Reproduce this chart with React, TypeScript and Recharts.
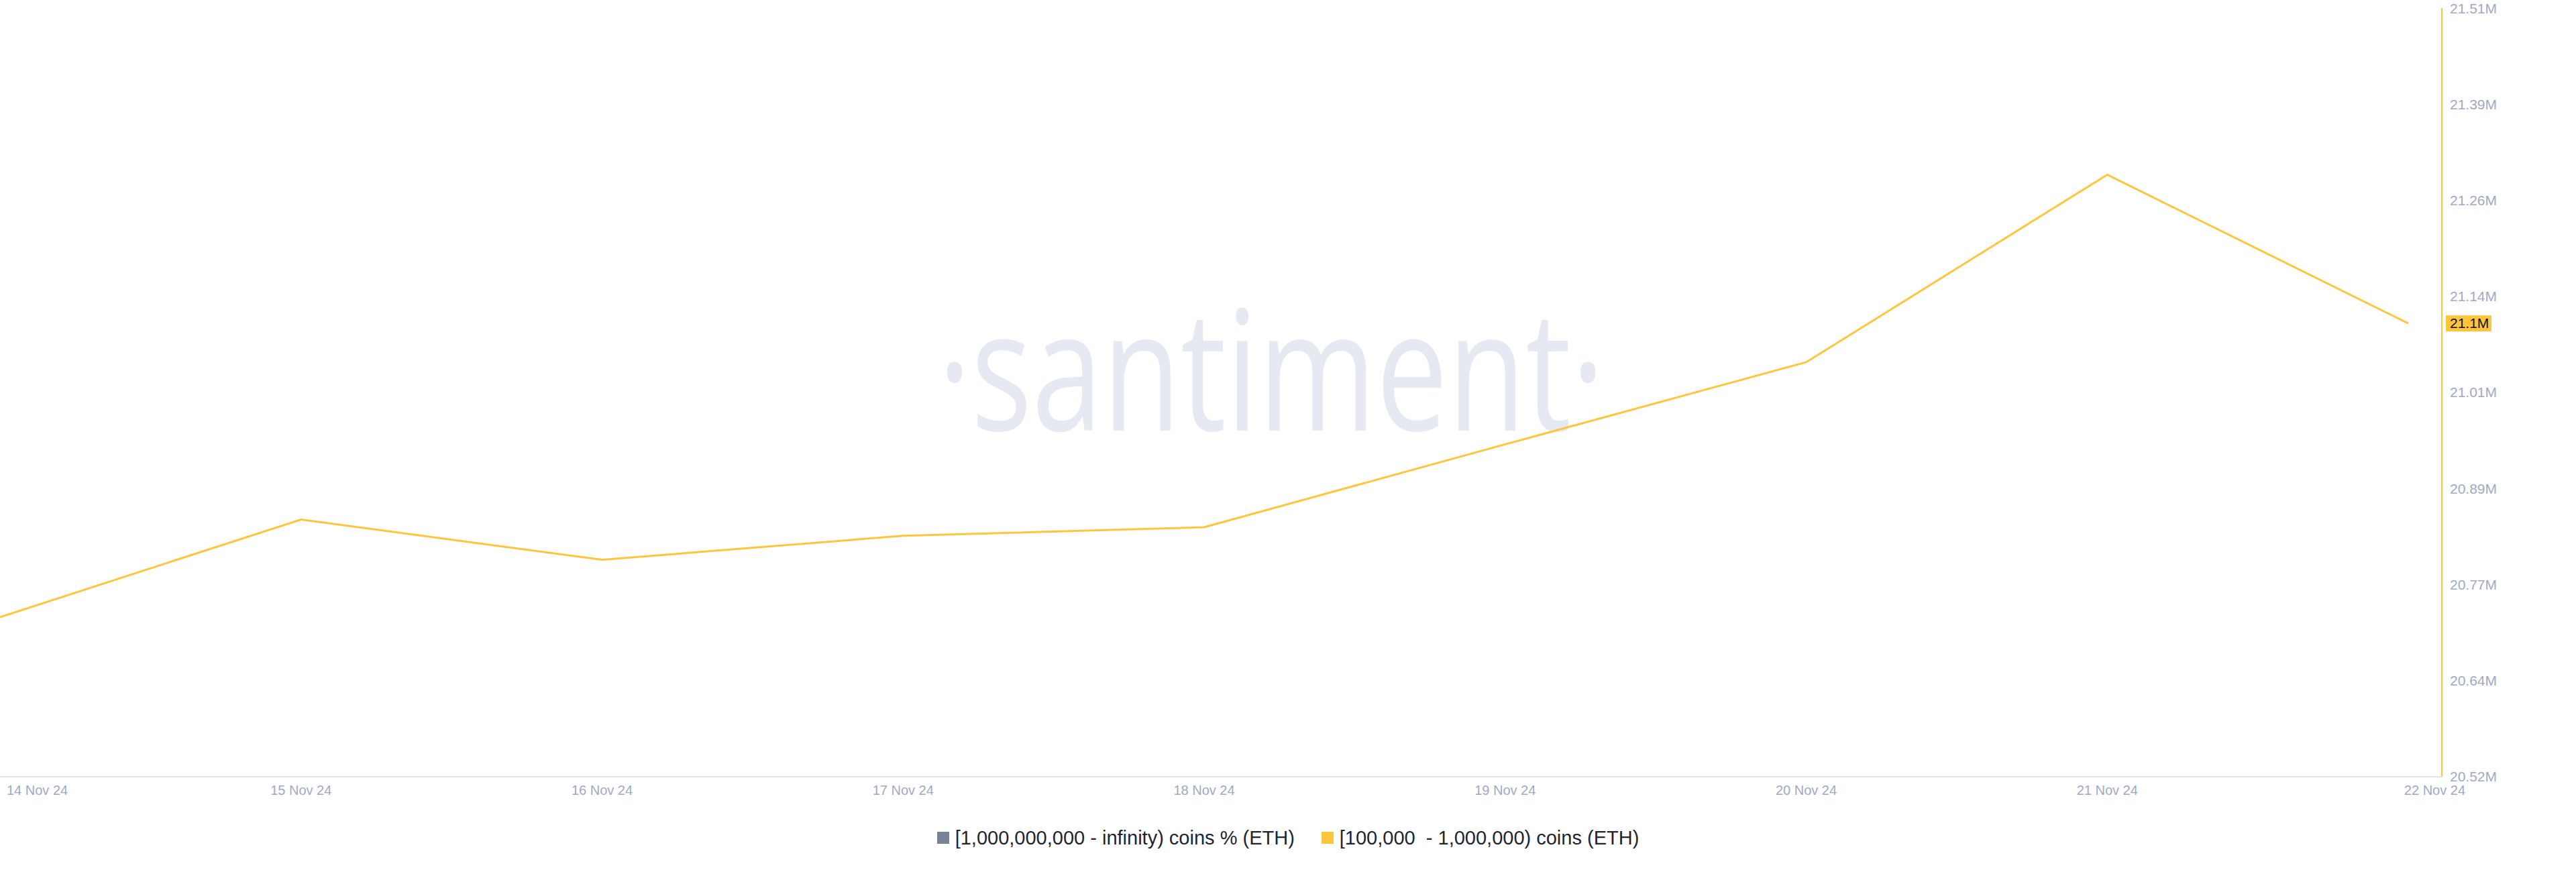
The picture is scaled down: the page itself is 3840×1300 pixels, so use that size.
import React from 'react';
import {
  LineChart,
  Line,
  XAxis,
  YAxis,
  Legend,
  ReferenceLine,
} from 'recharts';

const dates = [
  '14 Nov 24',
  '15 Nov 24',
  '16 Nov 24',
  '17 Nov 24',
  '18 Nov 24',
  '19 Nov 24',
  '20 Nov 24',
  '21 Nov 24',
  '22 Nov 24',
];
// [100,000 - 1,000,000) coins holders balance (ETH)
const whaleBalance = [
  20724000, 20850000, 20798000, 20829000, 20840000, 20947000, 21053000,
  21295000, 21103000,
];
const yTicks = [
  20518000, 20642000, 20766000, 20890000, 21014000, 21138000, 21262000,
  21386000, 21510000,
];
const legendNames = [
  '[1,000,000,000 - infinity) coins % (ETH)',
  '[100,000  - 1,000,000) coins (ETH)',
];
const legendColors = ['#7B8398', '#FFC53D'];

const data = dates.map((d, i) => ({ date: d, balance: whaleBalance[i] }));
const lastValue = whaleBalance[whaleBalance.length - 1];

const FONT = '"Liberation Sans", Arial, sans-serif';
const TICK_COLOR = '#A0A9C4';
const YELLOW = '#FFC53D';

const fmtM = (v: number) => (v / 1e6).toFixed(2) + 'M';

const XTick = (props: any) => {
  const { x, y, payload, index } = props;
  let anchor: 'start' | 'middle' | 'end' = 'middle';
  let tx = x;
  if (index === 0) {
    anchor = 'start';
    tx = x + 10;
  } else if (index === dates.length - 1) {
    anchor = 'end';
    tx = x + 85;
  }
  return (
    <text
      x={tx}
      y={y + 27}
      textAnchor={anchor}
      fill={TICK_COLOR}
      fontSize={20}
      fontFamily={FONT}
    >
      {payload.value}
    </text>
  );
};

const Badge = (props: any) => {
  const vb = props.viewBox || {};
  const right = vb.x + vb.width;
  return (
    <g>
      <rect x={right + 6} y={vb.y - 12} width={68} height={24} fill={YELLOW} />
      <text
        x={right + 12}
        y={vb.y + 7}
        fill="#111"
        fontSize={21}
        fontFamily={FONT}
      >
        {(lastValue / 1e6).toFixed(1) + 'M'}
      </text>
    </g>
  );
};

const LegendContent = () => (
  <div
    style={{
      display: 'flex',
      justifyContent: 'center',
      alignItems: 'center',
      height: 60,
      gap: 40,
      fontFamily: FONT,
      fontSize: 29,
      color: '#1E2433',
    }}
  >
    {legendNames.map((n, i) => (
      <div key={n} style={{ display: 'flex', alignItems: 'center' }}>
        <span
          style={{
            width: 18,
            height: 18,
            background: legendColors[i],
            marginRight: 9,
            display: 'inline-block',
          }}
        />
        <span style={{ whiteSpace: 'pre' }}>{n}</span>
      </div>
    ))}
  </div>
);

export default function App() {
  return (
    <div
      style={{
        position: 'absolute',
        left: 0,
        top: 0,
        width: 3840,
        height: 1300,
        background: '#fff',
      }}
    >
      <svg
        width={3840}
        height={1300}
        style={{ position: 'absolute', left: 0, top: 0 }}
      >
        <text
          x={1895}
          y={642}
          textAnchor="middle"
          fontFamily='"Open Sans", sans-serif'
          fontWeight={500}
          fontSize={250}
          fill="#E6E9F2"
          textLength={994}
          lengthAdjust="spacingAndGlyphs"
        >
          ·santiment·
        </text>
      </svg>
      <LineChart
        width={3840}
        height={1300}
        data={data}
        margin={{ top: 12, right: 0, left: 0, bottom: 21 }}
      >
        <XAxis
          dataKey="date"
          interval={0}
          padding={{ left: 0, right: 50 }}
          height={61}
          tickLine={false}
          tickSize={0}
          tickMargin={0}
          stroke="#E3E6F0"
          strokeWidth={2}
          tick={<XTick />}
        />
        <YAxis
          orientation="right"
          width={200}
          domain={[yTicks[0], yTicks[yTicks.length - 1]]}
          ticks={yTicks}
          tickFormatter={fmtM}
          tickLine={false}
          tickSize={0}
          tickMargin={12}
          stroke={YELLOW}
          strokeWidth={2}
          tick={{ fill: TICK_COLOR, fontSize: 21, fontFamily: FONT }}
        />
        <Legend
          verticalAlign="bottom"
          height={60}
          content={<LegendContent />}
        />
        <ReferenceLine
          y={lastValue}
          stroke="none"
          strokeOpacity={0}
          label={<Badge />}
        />
        <Line
          type="linear"
          dataKey="balance"
          stroke={YELLOW}
          strokeWidth={3}
          dot={false}
          activeDot={false}
          isAnimationActive={false}
        />
      </LineChart>
    </div>
  );
}
